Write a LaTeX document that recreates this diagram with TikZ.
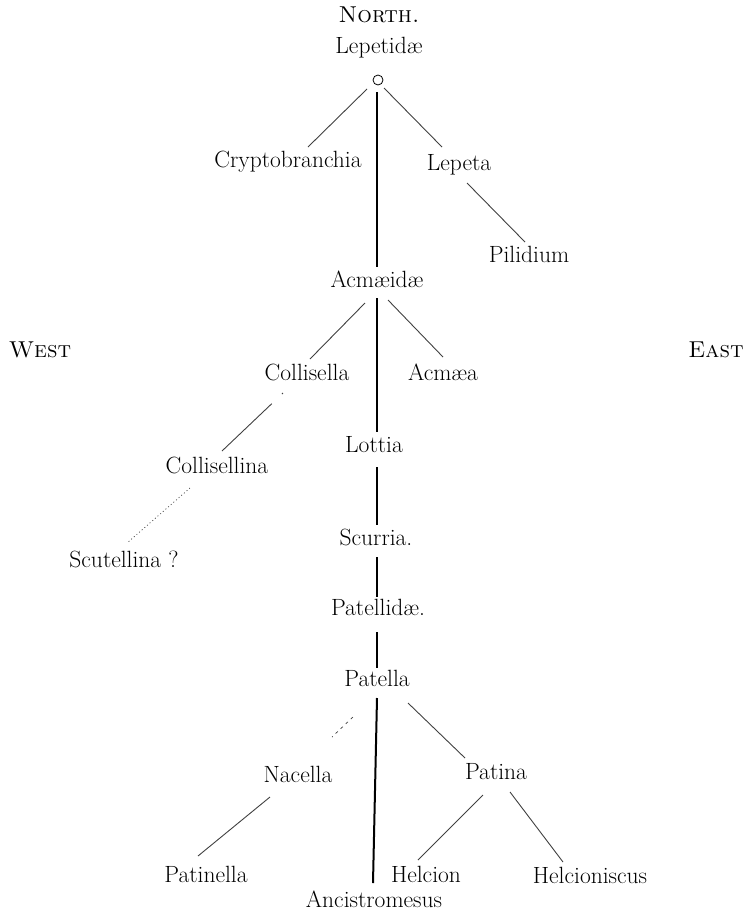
\documentclass[tikz,border=0pt]{standalone}
\usepackage{tikz}

\begin{document}
\begin{tikzpicture}[x=1pt, y=-1pt,
  taxon/.style={font=\fontsize{23.5}{28}\selectfont, inner sep=0pt,
                text height=15pt, text depth=4pt},
  point/.style={taxon, font=\fontsize{23}{28}\selectfont\scshape},
  stem/.style={line width=2pt},
  branch/.style={line width=0.9pt, draw=black!75},
  ]
  \useasboundingbox (0,0) rectangle (752,916);

  % compass points
  \node[point] (north) at (379,17) {North.};
  \node[point] (west) at (40,352) {West};
  \node[point] (east) at (716,352) {East};

  % Lepetidae
  \node[taxon] (lepetidae) at (379,48) {Lepetidæ};
  \node[draw, circle, minimum size=10pt, inner sep=0pt, line width=0.8pt] (circ) at (378,80) {};
  \node[taxon] (crypto) at (288,162) {Cryptobranchia};
  \node[taxon] (lepeta) at (459,165) {Lepeta};
  \node[taxon] (pilidium) at (529,257) {Pilidium};

  % Acmaeidae
  \node[taxon] (acmaeidae) at (377,282) {Acmæidæ};
  \node[taxon] (collisella) at (307,375) {Collisella};
  \node[taxon] (acmaea) at (443,375) {Acmæa};
  \node[taxon] (collisellina) at (217,468) {Collisellina};
  \node[taxon] (scutellina) at (124,562) {Scutellina ?};
  \node[taxon] (lottia) at (374,447) {Lottia};
  \node[taxon] (scurria) at (376,540) {Scurria.};

  % Patellidae
  \node[taxon] (patellidae) at (378,610) {Patellidæ.};
  \node[taxon] (patella) at (377,681) {Patella};
  \node[taxon] (nacella) at (298,777) {Nacella};
  \node[taxon] (patina) at (496,774) {Patina};
  \node[taxon] (patinella) at (206,877) {Patinella};
  \node[taxon] (helcion) at (426,877) {Helcion};
  \node[taxon] (helcioniscus) at (590,878) {Helcioniscus};
  \node[taxon] (ancistro) at (374,902) {Ancistromesus};

  % main stem
  \draw[stem] ([shift={(-1,12)}]circ.center) -- ([shift={(0,-15)}]acmaeidae.center);
  \draw[stem] ([shift={(0,16)}]acmaeidae.center) -- ([shift={(3,-15)}]lottia.center);
  \draw[stem] ([shift={(3,20)}]lottia.center) -- ([shift={(1,-15)}]scurria.center);
  \draw[stem] ([shift={(1,17)}]scurria.center) -- ([shift={(-1,-13)}]patellidae.center);
  \draw[stem] ([shift={(-1,22)}]patellidae.center) -- ([shift={(0,-13)}]patella.center);
  \draw[stem] ([shift={(0,17)}]patella.center) -- ([shift={(-1,-19)}]ancistro.center);

  % side branches
  \draw[branch] ([shift={(-11,9)}]circ.center) -- ([shift={(20,-15)}]crypto.center);
  \draw[branch] ([shift={(6,8)}]circ.center) -- ([shift={(-17,-18)}]lepeta.center);
  \draw[branch] ([shift={(8,18)}]lepeta.center) -- ([shift={(-4,-15)}]pilidium.center);
  \draw[branch] ([shift={(-12,21)}]acmaeidae.center) -- ([shift={(3,-16)}]collisella.center);
  \draw[branch] ([shift={(11,18)}]acmaeidae.center) -- ([shift={(0,-18)}]acmaea.center);
  \draw[branch, dash pattern=on 1.5pt off 14pt on 80pt]
    ([shift={(-24,18)}]collisella.center) -- ([shift={(5,-17)}]collisellina.center);
  \draw[branch, line width=0.7pt, dash pattern=on 1pt off 2.5pt]
    ([shift={(-27,20)}]collisellina.center) -- ([shift={(3,-19)}]scutellina.center);
  \draw[branch, line width=0.7pt, dash pattern=on 3pt off 4pt]
    ([shift={(-24,36)}]patella.center) -- ([shift={(34,-40)}]nacella.center);
  \draw[branch] ([shift={(31,22)}]patella.center) -- ([shift={(-31,-16)}]patina.center);
  \draw[branch] ([shift={(-28,20)}]nacella.center) -- ([shift={(-8,-21)}]patinella.center);
  \draw[branch] ([shift={(-13,21)}]patina.center) -- ([shift={(-8,-17)}]helcion.center);
  \draw[branch] ([shift={(14,18)}]patina.center) -- ([shift={(-27,-16)}]helcioniscus.center);
\end{tikzpicture}
\end{document}
